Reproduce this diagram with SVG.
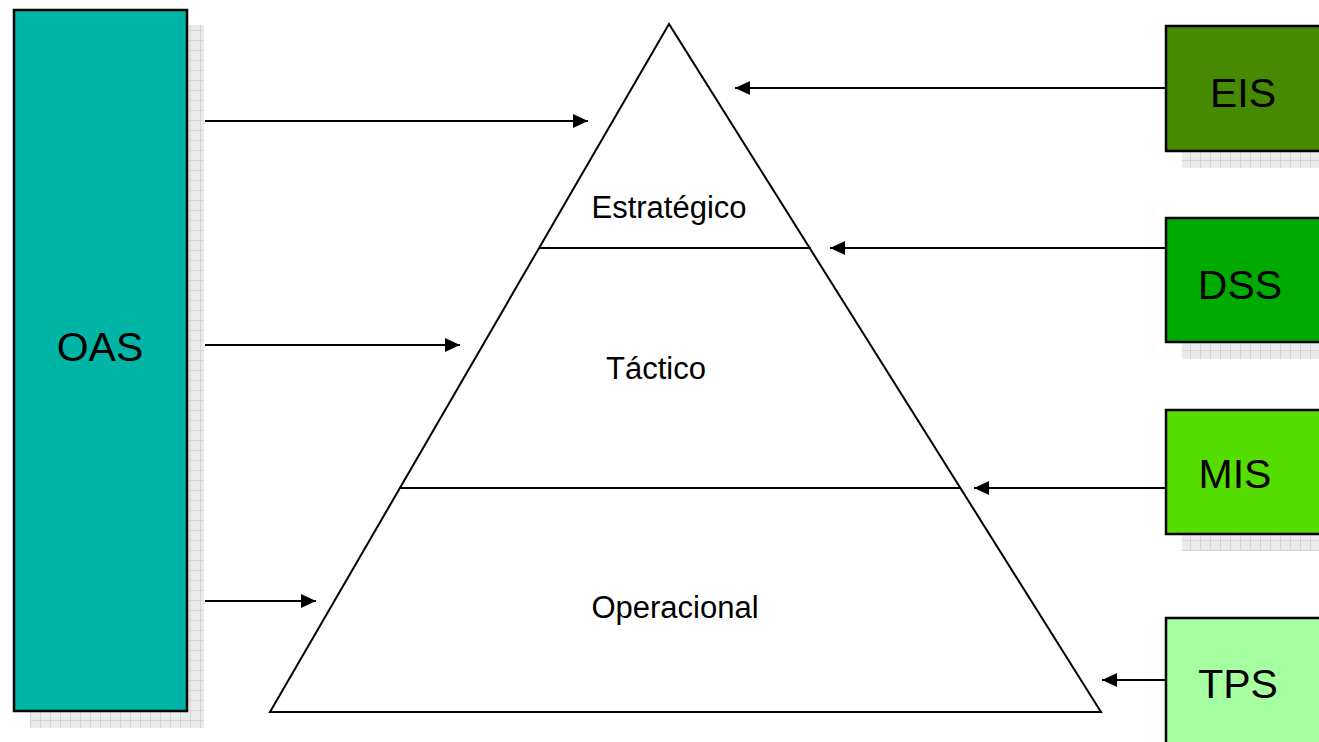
<svg xmlns="http://www.w3.org/2000/svg" width="1319" height="742" viewBox="0 0 1319 742">
<defs>
<pattern id="grid" width="10" height="10" patternUnits="userSpaceOnUse">
<rect width="10" height="10" fill="#ebebeb"/>
<path d="M0 0.5H10M0.5 0V10" stroke="#d4d4d4" stroke-width="1" fill="none"/>
</pattern>
<marker id="ah" markerWidth="15" markerHeight="14" refX="15" refY="7" orient="auto" markerUnits="userSpaceOnUse">
<path d="M0 0L15 7L0 14Z" fill="#000"/>
</marker>
</defs>
<style>
.box{stroke:#000;stroke-width:2.5}
.shadow{fill:url(#grid)}
.lbl{font-family:"Liberation Sans",Arial,sans-serif;font-size:41px;fill:#000;text-anchor:middle}
.lvl{font-family:"Liberation Sans",Arial,sans-serif;font-size:31px;fill:#000;text-anchor:middle}
.edge{stroke:#000;stroke-width:2;fill:none;marker-end:url(#ah)}
.pyr{stroke:#000;stroke-width:2;fill:#fff}
</style>
<rect width="1319" height="742" fill="#fff"/>

<g id="oas">
<rect class="shadow" x="30" y="25" width="174" height="703"/>
<rect class="box" x="14" y="10" width="173" height="701" fill="#00B5A6"/>
<text class="lbl" x="100" y="361">OAS</text>
</g>

<g id="pyramid">
<path class="pyr" d="M669 24L270 712H1101Z"/>
<line x1="539" y1="248" x2="811" y2="248" stroke="#000" stroke-width="2"/>
<line x1="399" y1="488" x2="960" y2="488" stroke="#000" stroke-width="2"/>
<text class="lvl" x="669" y="218">Estratégico</text>
<text class="lvl" x="656" y="379">Táctico</text>
<text class="lvl" x="675" y="618">Operacional</text>
</g>

<g id="eis">
<rect class="shadow" x="1182" y="42" width="140" height="126"/>
<rect class="box" x="1166" y="26" width="170" height="125" fill="#458A00"/>
<text class="lbl" x="1243" y="107">EIS</text>
</g>

<g id="dss">
<rect class="shadow" x="1182" y="234" width="140" height="125"/>
<rect class="box" x="1166" y="218" width="170" height="124" fill="#00AA00"/>
<text class="lbl" x="1240" y="299">DSS</text>
</g>

<g id="mis">
<rect class="shadow" x="1182" y="426" width="140" height="125"/>
<rect class="box" x="1166" y="410" width="170" height="124" fill="#55DD00"/>
<text class="lbl" x="1235" y="488">MIS</text>
</g>

<g id="tps">
<rect class="shadow" x="1182" y="634" width="140" height="120"/>
<rect class="box" x="1166" y="618" width="170" height="140" fill="#A6FFA0"/>
<text class="lbl" x="1238" y="698">TPS</text>
</g>

<g id="connectors">
<line class="edge" x1="205" y1="121" x2="588" y2="121"/>
<line class="edge" x1="205" y1="345" x2="460" y2="345"/>
<line class="edge" x1="205" y1="601" x2="316" y2="601"/>
<line class="edge" x1="1166" y1="88" x2="735" y2="88"/>
<line class="edge" x1="1166" y1="248" x2="830" y2="248"/>
<line class="edge" x1="1166" y1="488" x2="974" y2="488"/>
<line class="edge" x1="1166" y1="680" x2="1102" y2="680"/>
</g>
</svg>
